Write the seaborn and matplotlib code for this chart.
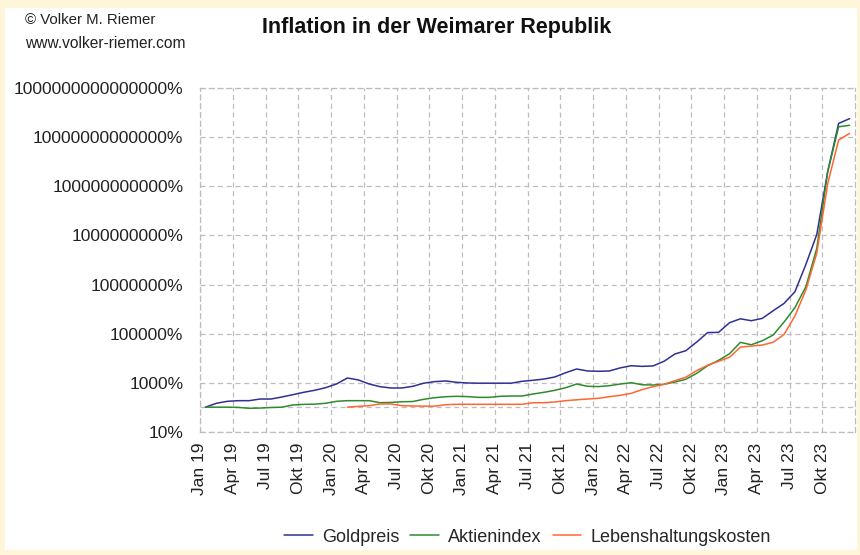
import numpy as np
import pandas as pd
import matplotlib
matplotlib.use("Agg")
import matplotlib.pyplot as plt
import matplotlib.patches as patches
from matplotlib.ticker import FuncFormatter, NullLocator
import seaborn as sns

# Daten (in %, monatlich Jan 1919 - Dez 1923)
monate = 60
goldpreis = [100, 144, 173, 184, 184, 215, 215, 260, 323, 404, 487, 622,
             880, 1550, 1290, 880, 684, 605, 605, 710, 950, 1100, 1170, 1030,
             970, 950, 950, 950, 950, 1135, 1245, 1400, 1700, 2540, 3600, 2990,
             2900, 2990, 4000, 4900, 4600, 4800, 7400, 14700, 20000, 45000, 110000, 112000,
             277000, 400000, 335000, 415000, 850000, 1.7e6, 5.1e6, 6.6e7, 1.1e9, 4e11, 3.7e13, 5.8e13]
aktienindex = [100, 100, 100, 98, 90, 92, 97, 100, 123, 130, 133, 144,
               173, 184, 184, 184, 152, 156, 166, 170, 210, 243, 267, 277,
               270, 251, 251, 277, 285, 285, 344, 403, 486, 622, 880, 710,
               690, 750, 880, 995, 820, 800, 855, 1060, 1370, 2400, 4900, 8100,
               15000, 44000, 35000, 51000, 87000, 295000, 1.15e6, 8.1e6, 3e8, 4e11, 2.7e13, 3.1e13]
lebenshaltung = [np.nan] * 13 + [
    100, 108, 115, 135, 135, 115, 112, 110, 110, 126, 131,
    131, 131, 131, 131, 131, 131, 152, 152, 163, 184, 200, 215,
    230, 267, 303, 367, 520, 684, 855, 1200, 1660, 3100, 5100, 7400,
    10800, 28000, 31000, 34000, 44000, 92000, 525000, 6e6, 1.9e8, 1.3e11, 7.8e12, 1.45e13]
x_labels = [f"{m} {j}" for j in range(19, 24) for m in ["Jan", "Apr", "Jul", "Okt"]]

df = pd.DataFrame({
    "x": np.arange(monate) + 0.5,
    "Goldpreis": goldpreis,
    "Aktienindex": aktienindex,
    "Lebenshaltungskosten": lebenshaltung,
})
df_long = df.melt(id_vars="x", var_name="Serie", value_name="Wert").dropna()

sns.set_style("white")
plt.rcParams["font.family"] = ["Liberation Sans", "DejaVu Sans"]

fig = plt.figure(figsize=(8.6, 5.55), dpi=100)
fig.patch.set_facecolor("#FFF6DA")
fig.add_artist(patches.Rectangle((5 / 860, 5 / 555), 852 / 860, 542 / 555,
                                 transform=fig.transFigure, facecolor="white",
                                 edgecolor="none", zorder=0))
ax = fig.add_axes([200 / 860, 1 - 431.7 / 555, 655 / 860, 343.4 / 555])

farben = {"Goldpreis": "#2E3192", "Aktienindex": "#2E8B2E", "Lebenshaltungskosten": "#FF6633"}
sns.lineplot(data=df_long, x="x", y="Wert", hue="Serie", palette=farben,
             linewidth=1.1, ax=ax, legend=True)

ax.set_yscale("log")
ax.set_ylim(10, 1e15)
ax.set_yticks([10.0 ** k for k in range(1, 16, 2)])
ax.yaxis.set_minor_locator(NullLocator())
ax.yaxis.set_major_formatter(FuncFormatter(lambda v, p: f"{int(round(v))}%"))
ax.set_xlim(0, 60)
ax.set_xticks(range(0, 60, 3))
ax.set_xticklabels(x_labels, rotation=90)
ax.set_xlabel("")
ax.set_ylabel("")

grid_kw = dict(color="#BDBDBD", linestyle=(0, (4, 3)), linewidth=0.9)
ax.grid(True, **grid_kw)
ax.axhline(100, zorder=0.5, **grid_kw)
for s in ax.spines.values():
    s.set_color("#BDBDBD")
    s.set_linestyle((0, (4, 3)))
    s.set_linewidth(0.9)
ax.tick_params(axis="both", which="major", length=4, width=0.8, color="#999999",
               labelsize=12.5, labelcolor="#222222", direction="out")
ax.tick_params(axis="y", pad=8)
ax.tick_params(axis="x", pad=4)

handles, labels = ax.get_legend_handles_labels()
ax.legend(handles, labels, loc="center", bbox_to_anchor=(0.5, -0.307), ncol=3,
          frameon=False, fontsize=13, handlelength=1.6, handletextpad=0.5,
          columnspacing=0.6)

fig.text(25 / 860, 1 - 20 / 555, "© Volker M. Riemer", fontsize=10.8, va="center", color="#222222")
fig.text(25 / 860, 1 - 44 / 555, "www.volker-riemer.com", fontsize=11.2, va="center", color="#222222")
fig.text(437 / 860, 1 - 27 / 555, "Inflation in der Weimarer Republik", fontsize=15.5,
         fontweight="bold", ha="center", va="center", color="#111111")

fig.savefig("out.png", dpi=100, facecolor=fig.get_facecolor())
